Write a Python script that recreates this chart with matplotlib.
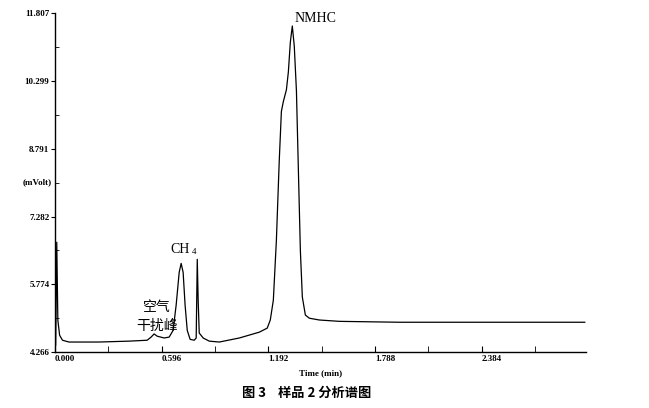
import matplotlib
matplotlib.use("Agg")
import matplotlib.pyplot as plt
from matplotlib.ticker import MultipleLocator, FixedLocator

# retention time (min) and detector signal (mVolt)
time_min = [0.004, 0.010, 0.016, 0.026, 0.042, 0.078, 0.246, 0.414, 0.515, 0.537,
            0.554, 0.571, 0.610, 0.638, 0.660, 0.677, 0.694, 0.705, 0.716, 0.727,
            0.739, 0.755, 0.778, 0.789, 0.795, 0.800, 0.806, 0.828, 0.862, 0.918,
            1.030, 1.142, 1.186, 1.203, 1.220, 1.237, 1.253, 1.265, 1.276, 1.293,
            1.304, 1.315, 1.326, 1.337, 1.349, 1.360, 1.371, 1.382, 1.399, 1.421,
            1.477, 1.589, 1.925, 2.960]
signal = [4.42, 6.71, 4.98, 4.64, 4.53, 4.49, 4.49, 4.51, 4.53, 4.60,
          4.67, 4.62, 4.58, 4.60, 4.75, 5.31, 6.04, 6.24, 6.04, 5.31,
          4.75, 4.55, 4.53, 4.58, 6.33, 5.42, 4.69, 4.58, 4.51, 4.49,
          4.58, 4.71, 4.80, 4.98, 5.42, 6.75, 8.52, 9.62, 9.84, 10.10,
          10.50, 11.16, 11.52, 11.07, 10.08, 8.30, 6.53, 5.49, 5.09, 5.02,
          4.98, 4.95, 4.93, 4.93]

y_ticks = [4.266, 5.774, 7.282, 8.791, 10.299, 11.807]
x_ticks = [0.000, 0.596, 1.192, 1.788, 2.384]
x_labels = ["0.000", "0.596", "1.192", "1.788", "2.384"]

serif = ["Liberation Serif", "DejaVu Serif"]
cjk = ["Noto Sans CJK SC", "DejaVu Sans"]

fig = plt.figure(figsize=(6.49, 4.08), dpi=100)
ax = fig.add_axes([0.0847, 0.137, 0.818, 0.831])

ax.plot(time_min, signal, color="black", lw=0.9)

ax.set_xlim(0, 2.966)
ax.set_ylim(4.266, 11.807)
ax.spines["top"].set_visible(False)
ax.spines["right"].set_visible(False)
ax.spines["left"].set_linewidth(1.0)
ax.spines["bottom"].set_linewidth(1.0)

ax.yaxis.set_major_locator(FixedLocator(y_ticks))
ax.yaxis.set_minor_locator(FixedLocator([v + 0.754 for v in y_ticks[:-1]]))
ax.set_yticklabels(["%.3f" % v for v in y_ticks], fontfamily=serif,
                   fontweight="bold", fontsize=6.5)
ax.tick_params(axis="y", which="major", direction="out", length=3, pad=1)
ax.tick_params(axis="y", which="minor", direction="in", length=3)

ax.xaxis.set_major_locator(FixedLocator(x_ticks))
ax.xaxis.set_minor_locator(MultipleLocator(0.298))
ax.set_xticklabels(x_labels, fontfamily=serif, fontweight="bold", fontsize=6.5,
                   ha="left")
ax.tick_params(axis="x", which="both", direction="in", length=4, pad=2)

ax.text(-0.006, 0.5, "(mVolt)", transform=ax.transAxes, ha="right", va="center",
        fontfamily=serif, fontweight="bold", fontsize=6.5)
ax.text(0.5, -0.05, "Time (min)", transform=ax.transAxes, ha="center", va="top",
        fontfamily=serif, fontweight="bold", fontsize=6.5)

# peak labels
ax.text(1.34, 11.68, "NMHC", fontfamily=serif, fontsize=10, ha="left", va="center")
ax.text(0.70, 6.55, "CH", fontfamily=serif, fontsize=10, ha="center", va="center")
ax.text(0.763, 6.50, "4", fontfamily=serif, fontsize=6.5, ha="left", va="center")
ax.text(0.57, 5.27, "空气", fontfamily=cjk, fontsize=10, ha="center", va="center")
ax.text(0.57, 4.85, "干扰峰", fontfamily=cjk, fontsize=10, ha="center", va="center")

fig.text(0.472, 0.037, "图 3    样品 2 分析谱图", fontfamily=cjk, fontweight="bold",
         fontsize=9.5, ha="center", va="center")

fig.savefig("out.png", dpi=100)
